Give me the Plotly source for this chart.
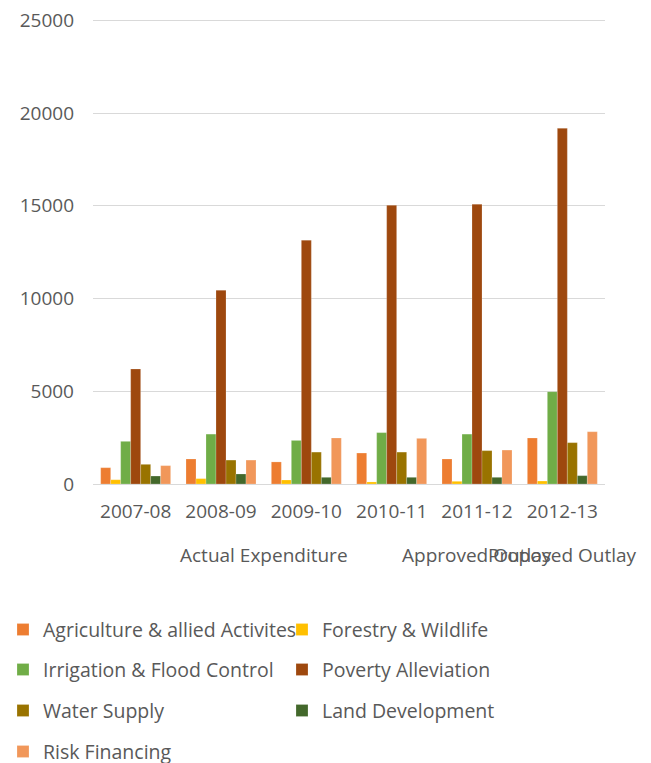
import plotly.graph_objects as go

years = ["2007-08", "2008-09", "2009-10", "2010-11", "2011-12", "2012-13"]
year_groups = ["Actual Expenditure", "Actual Expenditure", "Actual Expenditure",
               "Actual Expenditure", "Approved Outlay", "Proposed Outlay"]

agriculture = [880, 1350, 1190, 1670, 1350, 2480]
forestry = [230, 290, 215, 110, 145, 160]
irrigation = [2300, 2690, 2350, 2770, 2690, 4980]
poverty = [6200, 10450, 13150, 15030, 15090, 19180]
water = [1060, 1290, 1720, 1720, 1800, 2230]
land = [430, 540, 360, 360, 360, 450]
risk = [990, 1290, 2480, 2460, 1830, 2820]

y_tick_max = 25000
y_tick_step = 5000

series_names = ["Agriculture & allied Activites", "Forestry & Wildlife",
                "Irrigation & Flood Control", "Poverty Alleviation",
                "Water Supply", "Land Development", "Risk Financing"]
series_values = [agriculture, forestry, irrigation, poverty, water, land, risk]
colors = ["#ED7D31", "#FFC000", "#70AD47", "#9E480E", "#997300", "#43682B", "#F1975A"]
legend_ids = ["legend", "legend", "legend2", "legend2", "legend3", "legend3", "legend4"]

FONT = "Open Sans"
FS = 19
GRAY = "#595959"
PAGE_OFF = 8                       # default body margin of the html page
W, H = 651 - PAGE_OFF, 763 - PAGE_OFF
BASE_Y = 484                       # screen y of value 0
TOP_Y = 20                         # screen y of the top tick
PL, PW = 93, 512                   # plot left / width in screen pixels
PX_PER_UNIT = (BASE_Y - TOP_Y) / y_tick_max
Y_TOP = y_tick_max * 1.003         # small headroom so the top gridline is drawn
PH = Y_TOP * PX_PER_UNIT
PT = BASE_Y - PH
L, T = PL - PAGE_OFF, PT - PAGE_OFF
R, B = W - L - PW, H - T - PH


def py2paper(py):
    return (BASE_Y - py) / PH


def px2paper(px):
    return (px - PL) / PW


fig = go.Figure()
for name, vals, col, lg in zip(series_names, series_values, colors, legend_ids):
    fig.add_trace(go.Bar(x=years, y=vals, name=name, marker_color=col,
                         marker_line=dict(width=0.6, color="rgba(255,255,255,0.35)"),
                         legend=lg))

# group labels under the year labels
groups = []
for i, g in enumerate(year_groups):
    if groups and groups[-1][0] == g:
        groups[-1][1].append(i)
    else:
        groups.append([g, [i]])
annotations = []
for g, idx in groups:
    annotations.append(dict(x=sum(idx) / len(idx), xref="x", y=py2paper(555),
                            yref="paper", text=g, showarrow=False, yanchor="middle",
                            xanchor="center",
                            font=dict(family=FONT, size=FS, color=GRAY)))

row_y = [630, 670, 711, 752]
legend_common = dict(orientation="h", xref="paper", yref="paper",
                     x=px2paper(3), xanchor="left", yanchor="middle",
                     font=dict(family=FONT, size=19.5, color=GRAY),
                     entrywidth=234, entrywidthmode="pixels",
                     bgcolor="rgba(0,0,0,0)", itemclick=False, borderwidth=0)

fig.update_layout(
    width=W, height=H,
    margin=dict(l=L, r=R, t=T, b=B, autoexpand=False),
    paper_bgcolor="white", plot_bgcolor="white",
    barmode="group", bargap=0.18, bargroupgap=0,
    font=dict(family=FONT, size=FS, color=GRAY),
    xaxis=dict(type="category", range=[-0.5, len(years) - 0.5], autorange=False,
               showgrid=False, showline=False, ticks="",
               automargin=False, ticklabelstandoff=14,
               tickfont=dict(family=FONT, size=FS, color=GRAY)),
    yaxis=dict(range=[0, Y_TOP], autorange=False, tick0=0, dtick=y_tick_step,
               tickformat="d", showgrid=True, gridcolor="#D9D9D9", gridwidth=1,
               zeroline=True, zerolinecolor="#D9D9D9", zerolinewidth=1,
               automargin=False, showline=False, ticks="", ticklabelstandoff=18,
               ticklabeloverflow="allow",
               tickfont=dict(family=FONT, size=FS, color=GRAY)),
    annotations=annotations,
)
for lid, ry in zip(["legend", "legend2", "legend3", "legend4"], row_y):
    fig.update_layout({lid: dict(**legend_common, y=py2paper(ry))})

fig.write_html("out.html")
